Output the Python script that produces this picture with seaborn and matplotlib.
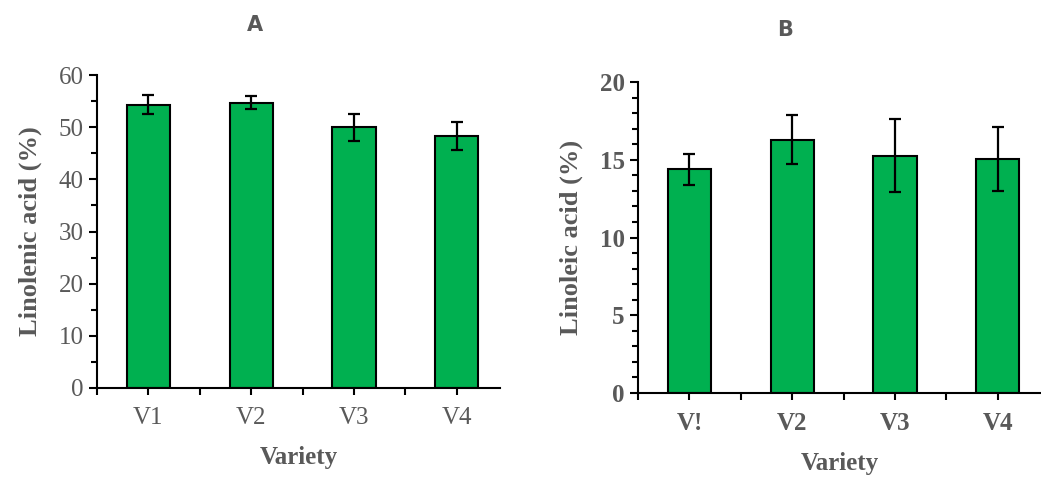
import matplotlib
matplotlib.use("Agg")
import matplotlib.pyplot as plt
import pandas as pd
import seaborn as sns
from matplotlib.ticker import MultipleLocator, FixedLocator

# panel A: linolenic acid
varieties_a = ["V1", "V2", "V3", "V4"]
linolenic = [54.3, 54.7, 50.0, 48.3]
linolenic_err = [1.8, 1.3, 2.6, 2.6]

# panel B: linoleic acid
varieties_b = ["V!", "V2", "V3", "V4"]
linoleic = [14.4, 16.3, 15.25, 15.05]
linoleic_err = [1.0, 1.55, 2.35, 2.05]

GREEN = "#00B050"
GREY = "#595959"

sns.set_style("white")
plt.rcParams["font.family"] = ["Liberation Serif", "DejaVu Serif"]


def draw_panel(ax, cats, vals, errs, ylabel, ymax, major, minor, bold_ticks):
    df = pd.DataFrame({"Variety": cats, "value": vals})
    sns.barplot(data=df, x="Variety", y="value", ax=ax, color=GREEN,
                width=0.42, edgecolor="black", linewidth=1.5, saturation=1,
                errorbar=None)
    xs = [p.get_x() + p.get_width() / 2 for p in ax.patches]
    ax.errorbar(xs, vals, yerr=errs, fmt="none", ecolor="black",
                elinewidth=1.6, capsize=4, capthick=1.6)
    ax.set_xlim(-0.5, 3.42)
    ax.set_ylim(0, ymax)
    ax.yaxis.set_major_locator(MultipleLocator(major))
    ax.yaxis.set_minor_locator(MultipleLocator(minor))
    ax.xaxis.set_minor_locator(FixedLocator([-0.5, 0.5, 1.5, 2.5]))
    for side in ["top", "right"]:
        ax.spines[side].set_visible(False)
    for side in ["left", "bottom"]:
        ax.spines[side].set_color("black")
        ax.spines[side].set_linewidth(1.5)
    ax.tick_params(axis="both", which="both", direction="out", color="black",
                   width=1.5, labelcolor=GREY, labelsize=18)
    ax.tick_params(axis="y", which="major", length=6, left=True)
    ax.tick_params(axis="y", which="minor", length=4, left=True)
    ax.tick_params(axis="x", which="both", length=5, bottom=True, pad=9)
    if bold_ticks:
        for lab in ax.get_xticklabels() + ax.get_yticklabels():
            lab.set_fontweight("bold")
    ax.set_xlabel("Variety", fontsize=18, fontweight="bold", color=GREY, labelpad=12)
    ax.set_ylabel(ylabel, fontsize=19, fontweight="bold", color=GREY, labelpad=12)


fig = plt.figure(figsize=(10.41, 4.79), dpi=100)
ax_a = fig.add_axes([0.0932, 0.19, 0.387, 0.6534])
ax_b = fig.add_axes([0.6129, 0.1795, 0.3871, 0.6493])

draw_panel(ax_a, varieties_a, linolenic, linolenic_err,
           "Linolenic acid (%)", 60, 10, 5, False)
draw_panel(ax_b, varieties_b, linoleic, linoleic_err,
           "Linoleic acid (%)", 20, 5, 1, True)

fig.text(255 / 1041, 1 - 25 / 479, "A", fontsize=15, fontweight="bold",
         color=GREY, ha="center", va="center", family=["DejaVu Sans"])
fig.text(785 / 1041, 1 - 30 / 479, "B", fontsize=15, fontweight="bold",
         color=GREY, ha="center", va="center", family=["DejaVu Sans"])

fig.savefig("out.png", dpi=100)
plt.close(fig)
